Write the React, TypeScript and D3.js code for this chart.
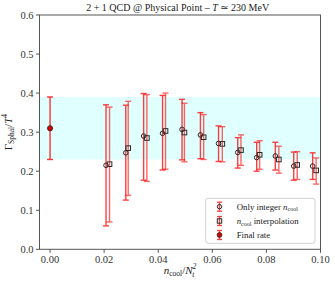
import React from "react";
import * as d3 from "d3";

const circleX = [0.0207, 0.0280, 0.0346, 0.0416, 0.0488, 0.0556, 0.0623, 0.0694, 0.0764, 0.0833, 0.0901, 0.0971];
const circleY = [0.215, 0.247, 0.290, 0.297, 0.307, 0.293, 0.271, 0.248, 0.235, 0.239, 0.213, 0.213];
const circleLo = [0.060, 0.126, 0.177, 0.203, 0.229, 0.232, 0.225, 0.208, 0.200, 0.203, 0.177, 0.179];
const circleHi = [0.370, 0.369, 0.399, 0.394, 0.384, 0.350, 0.316, 0.286, 0.274, 0.274, 0.249, 0.247];

const squareX = [0.0220, 0.0289, 0.0358, 0.0427, 0.0497, 0.0568, 0.0637, 0.0706, 0.0775, 0.0846, 0.0914, 0.0984];
const squareY = [0.218, 0.259, 0.285, 0.303, 0.299, 0.287, 0.270, 0.254, 0.242, 0.230, 0.216, 0.202];
const squareLo = [0.070, 0.138, 0.174, 0.205, 0.224, 0.230, 0.224, 0.215, 0.205, 0.195, 0.179, 0.167];
const squareHi = [0.364, 0.379, 0.396, 0.400, 0.374, 0.345, 0.314, 0.293, 0.278, 0.264, 0.250, 0.234];

const finalX = [0.0];
const finalY = [0.31];
const finalLo = [0.23];
const finalHi = [0.39];

const xTicks = [0.0, 0.02, 0.04, 0.06, 0.08, 0.1];
const yTicks = [0.0, 0.1, 0.2, 0.3, 0.4, 0.5, 0.6];

const legendLabels = ["Only integer", "interpolation", "Final rate"];

const W = 335;
const H = 285;
const M = { left: 39.5, right: 320.5, top: 15, bottom: 249.3 };
const FONT = "'Liberation Serif', 'DejaVu Serif', serif";
const RED = "#ff0000";
const EDGE = "#2a2a2a";

export default function App() {
  const x = d3.scaleLinear().domain([-0.0039, 0.1]).range([M.left, M.right]);
  const y = d3.scaleLinear().domain([0, 0.6]).range([M.bottom, M.top]);
  const cap = 3;

  const errBar = (xv: number, lo: number, hi: number, key: string, op: number) => (
    <g key={key} stroke={RED} strokeWidth={1.4} opacity={op}>
      <line x1={x(xv)} x2={x(xv)} y1={y(lo)} y2={y(hi)} />
      <line x1={x(xv) - cap} x2={x(xv) + cap} y1={y(lo)} y2={y(lo)} />
      <line x1={x(xv) - cap} x2={x(xv) + cap} y1={y(hi)} y2={y(hi)} />
    </g>
  );

  const lx = 219.5;
  const rows = [206.7, 221, 235];

  return (
    <svg width={W} height={H} style={{ position: "absolute", left: 0, top: 0 }} fontFamily={FONT}>
      <rect x={0} y={0} width={W} height={H} fill="white" />
      {/* band */}
      <rect x={M.left} width={M.right - M.left} y={y(finalHi[0])} height={y(finalLo[0]) - y(finalHi[0])} fill="#e0ffff" />
      {/* error bars */}
      {circleX.map((xv, i) => errBar(xv, circleLo[i], circleHi[i], "ce" + i, 0.75))}
      {squareX.map((xv, i) => errBar(xv, squareLo[i], squareHi[i], "se" + i, 0.6))}
      {finalX.map((xv, i) => errBar(xv, finalLo[i], finalHi[i], "fe" + i, 0.8))}
      {/* markers */}
      {circleX.map((xv, i) => (
        <circle key={"c" + i} cx={x(xv)} cy={y(circleY[i])} r={2.3} fill="none" stroke={EDGE} strokeWidth={1} />
      ))}
      {squareX.map((xv, i) => (
        <rect key={"s" + i} x={x(xv) - 2.3} y={y(squareY[i]) - 2.3} width={4.6} height={4.6} fill="none" stroke={EDGE} strokeWidth={1} />
      ))}
      {finalX.map((xv, i) => (
        <circle key={"f" + i} cx={x(xv)} cy={y(finalY[i])} r={2.6} fill="#dd0000" stroke="#222" strokeWidth={0.8} />
      ))}
      {/* frame */}
      <rect x={M.left} y={M.top} width={M.right - M.left} height={M.bottom - M.top} fill="none" stroke="#555" strokeWidth={1} />
      {/* y ticks */}
      {yTicks.map((t) => (
        <g key={"yt" + t}>
          <line x1={M.left - 3.5} x2={M.left} y1={y(t)} y2={y(t)} stroke="#555" />
          <text x={M.left - 6} y={y(t)} dy="0.35em" textAnchor="end" fontSize={10.5} fill="#333">
            {d3.format(".1f")(t)}
          </text>
        </g>
      ))}
      {/* x ticks */}
      {xTicks.map((t) => (
        <g key={"xt" + t}>
          <line x1={x(t)} x2={x(t)} y1={M.bottom} y2={M.bottom + 3.5} stroke="#555" />
          <text x={x(t)} y={M.bottom + 14} textAnchor="middle" fontSize={10.5} fill="#333">
            {d3.format(".2f")(t)}
          </text>
        </g>
      ))}
      {/* title */}
      <text x={177.7} y={10.5} textAnchor="middle" fontSize={10} fill="#222">
        2 + 1 QCD @ Physical Point – <tspan fontStyle="italic">T</tspan> ≃ 230 MeV
      </text>
      {/* x label */}
      <text x={180} y={274} textAnchor="middle" fontSize={11} fill="#222">
        <tspan fontStyle="italic">n</tspan>
        <tspan fontSize={7.5} dy={2}>cool</tspan>
        <tspan dy={-2}>/</tspan>
        <tspan fontStyle="italic">N</tspan>
        <tspan fontSize={7.5} fontStyle="italic" dy={-5}>2</tspan>
        <tspan fontSize={7.5} fontStyle="italic" dx={-4} dy={8}>t</tspan>
      </text>
      {/* y label */}
      <text transform={`translate(12, ${y(0.3)}) rotate(-90)`} textAnchor="middle" fontSize={11} fill="#222">
        <tspan>Γ</tspan>
        <tspan fontSize={7.5} dy={2}>Sphal</tspan>
        <tspan dy={-2}>/</tspan>
        <tspan fontStyle="italic">T</tspan>
        <tspan fontSize={7.5} dy={-5}>4</tspan>
      </text>
      {/* legend */}
      <rect x={205.7} y={198.3} width={109.3} height={45} rx={2.5} fill="white" fillOpacity={0.8} stroke="#d0d0d0" strokeWidth={1} />
      {rows.map((ry, i) => (
        <g key={"lg" + i}>
          <g stroke={RED} strokeWidth={1.3} opacity={0.75}>
            <line x1={lx} x2={lx} y1={ry - 4.5} y2={ry + 4.5} />
            <line x1={lx - 2.5} x2={lx + 2.5} y1={ry - 4.5} y2={ry - 4.5} />
            <line x1={lx - 2.5} x2={lx + 2.5} y1={ry + 4.5} y2={ry + 4.5} />
          </g>
          {i === 0 && <circle cx={lx} cy={ry} r={2.2} fill="none" stroke={EDGE} strokeWidth={1} />}
          {i === 1 && <rect x={lx - 2.2} y={ry - 2.2} width={4.4} height={4.4} fill="none" stroke={EDGE} strokeWidth={1} />}
          {i === 2 && <circle cx={lx} cy={ry} r={2.4} fill="#dd0000" stroke="#222" strokeWidth={0.8} />}
        </g>
      ))}
      <text x={236.7} y={rows[0]} dy="0.35em" fontSize={8.8} fill="#222">
        {legendLabels[0]} <tspan fontStyle="italic">n</tspan>
        <tspan fontSize={6} dy={1.5}>cool</tspan>
      </text>
      <text x={236.7} y={rows[1]} dy="0.35em" fontSize={8.8} fill="#222">
        <tspan fontStyle="italic">n</tspan>
        <tspan fontSize={6} dy={1.5}>cool</tspan>
        <tspan dy={-1.5}> {legendLabels[1]}</tspan>
      </text>
      <text x={236.7} y={rows[2]} dy="0.35em" fontSize={8.8} fill="#222">
        {legendLabels[2]}
      </text>
    </svg>
  );
}
